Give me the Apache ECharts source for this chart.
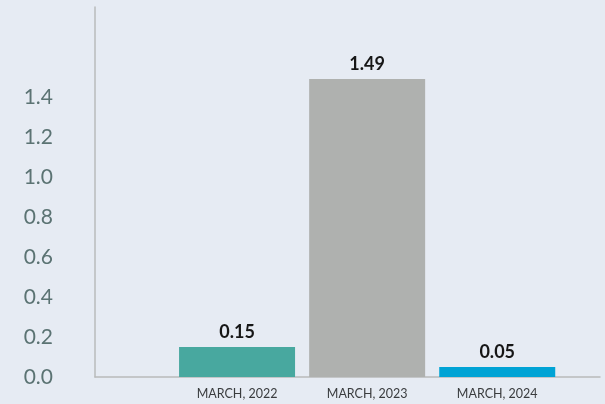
<!DOCTYPE html>
<html>
<head>
<meta charset="utf-8">
<script src="https://cdn.jsdelivr.net/npm/echarts@6/dist/echarts.min.js"></script>
<style>
  html, body { margin: 0; padding: 0; background: #e6ebf3; }
  #chart { width: 605px; height: 404px; }
</style>
</head>
<body>
<div id="chart"></div>
<script>
const categories = ['MARCH, 2022', 'MARCH, 2023', 'MARCH, 2024']
const values = [0.15, 1.49, 0.05]
const barColors = ['#48a89f', '#afb1af', '#00a3d5']
const yTicks = [0, 0.2, 0.4, 0.6, 0.8, 1.0, 1.2, 1.4]

const chart = echarts.init(document.getElementById('chart'))

chart.setOption({
  backgroundColor: '#e6ebf3',
  animation: false,
  grid: {
    left: 95,
    right: 5,
    top: 7,
    bottom: 27,
    outerBoundsMode: 'none',
    containLabel: false,
  },
  xAxis: {
    type: 'value',
    // category slots sit at 1, 2, 3
    min: -0.092,
    max: 3.79,
    splitLine: { show: false },
    axisTick: { show: false },
    axisLine: {
      show: true,
      onZero: false,
      lineStyle: { color: '#b9bbbb', width: 1.5 },
    },
    axisLabel: {
      customValues: [1, 2, 3],
      margin: 10,
      fontFamily: 'Lato',
      fontSize: 12.5,
      color: '#3a3c3e',
      formatter: (v) => categories[Math.round(v) - 1] || '',
    },
  },
  yAxis: {
    type: 'value',
    min: 0,
    max: 1.85,
    splitLine: { show: false },
    axisTick: { show: false },
    axisLine: {
      show: true,
      onZero: false,
      lineStyle: { color: '#b9bbbb', width: 1.5 },
    },
    axisLabel: {
      customValues: yTicks,
      margin: 42,
      fontFamily: 'Lato',
      fontSize: 21,
      color: '#5b7373',
      formatter: (v) => v.toFixed(1),
    },
  },
  series: [
    {
      type: 'bar',
      barWidth: 116,
      data: values.map((v, i) => ({
        value: [i + 1, v],
        itemStyle: { color: barColors[i] },
      })),
      label: {
        show: true,
        position: 'top',
        distance: 6,
        fontFamily: 'Lato',
        fontWeight: 'bold',
        fontSize: 18,
        color: '#161616',
        formatter: (p) => p.value[1].toFixed(2),
      },
    },
  ],
})
</script>
</body>
</html>
